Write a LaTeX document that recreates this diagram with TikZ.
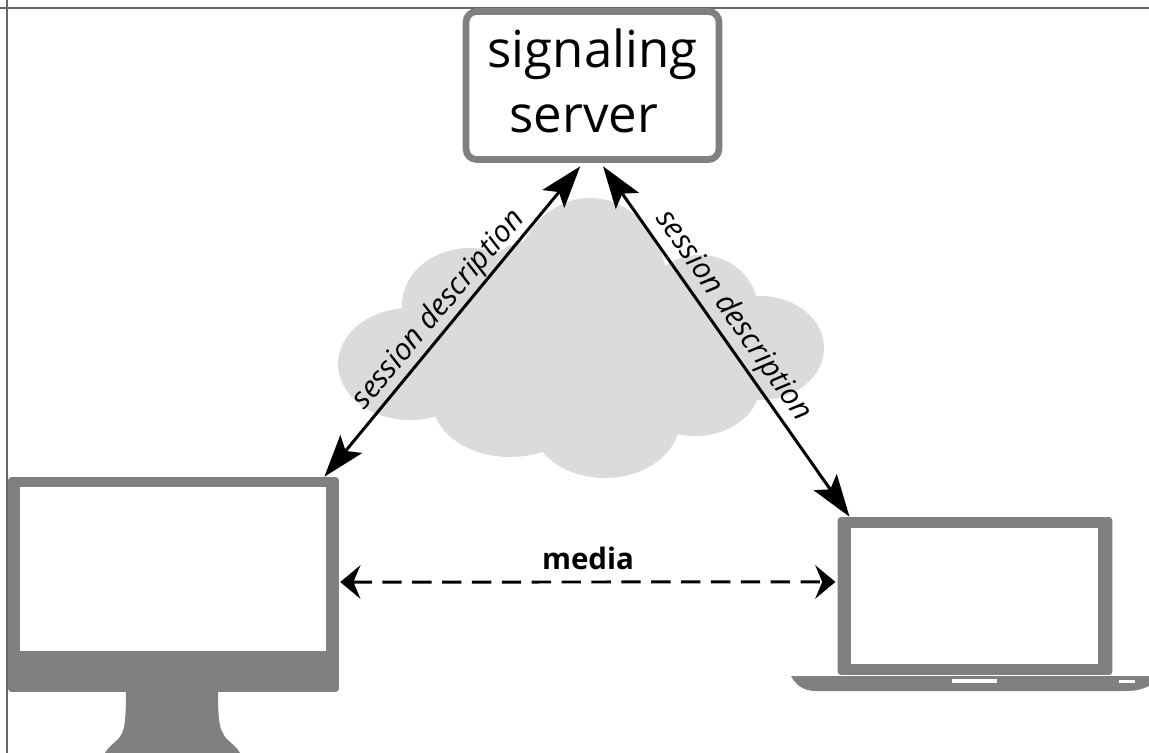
\documentclass[tikz,border=0pt]{standalone}
\usepackage{fontspec}
\usepackage{xcolor}
\usetikzlibrary{arrows.meta}
\setmainfont{Open Sans}
\definecolor{devicegray}{HTML}{808080}
\definecolor{cloudgray}{HTML}{DBDBDB}
\tikzset{
	devicebox/.style={fill=devicegray,rounded corners=2pt,inner sep=0pt},
	screenbox/.style={fill=white,inner sep=0pt},
	link/.style={line width=1.7pt,black,{Stealth[length=24pt,width=16pt,inset=5pt]}-{Stealth[length=24pt,width=16pt,inset=5pt]}},
	medialink/.style={line width=1.7pt,black,dash pattern=on 11pt off 6pt,{Stealth[length=11.5pt,width=19pt,inset=4pt]}-{Stealth[length=11.5pt,width=19pt,inset=4pt]}},
	sessionlabel/.style={font=\fontsize{17}{20}\selectfont\itshape,inner sep=0pt}
}
\begin{document}
\begin{tikzpicture}[x=0.02cm,y=-0.02cm]
	\useasboundingbox (0,0) rectangle (1149,753);
	\fill[white] (0,0) rectangle (1149,753);
	%% cloud
	\fill[cloudgray] (590,290) ellipse (78 and 92);
	\fill[cloudgray] (470,305) ellipse (68 and 57);
	\fill[cloudgray] (410,364) ellipse (72 and 56);
	\fill[cloudgray] (510,400) ellipse (78 and 57);
	\fill[cloudgray] (605,420) ellipse (75 and 58);
	\fill[cloudgray] (695,385) ellipse (65 and 51);
	\fill[cloudgray] (760,348) ellipse (64 and 52);
	\fill[cloudgray] (700,310) ellipse (58 and 55);
	\fill[cloudgray] (535,300) ellipse (60 and 60);
	\fill[cloudgray] (590,360) ellipse (130 and 90);
	%% monitor
	\fill[devicegray] (126,690) -- (218,690) .. controls (218,715) and (219,728) .. (223,733) .. controls (226,741) and (235,744) .. (240,753) -- (105,753) .. controls (110,744) and (119,741) .. (122,733) .. controls (125,728) and (126,715) .. (126,690) -- cycle;
	\node[devicebox,minimum width=6.62cm,minimum height=4.3cm] (monitor) at (173.5,584.5) {};
	\node[screenbox,minimum width=6.12cm,minimum height=3.28cm] (monitorscreen) at (173,569) {};
	%% image edges
	\draw[devicegray!80!black,line width=1pt] (0,8) -- (1149,8);
	\draw[devicegray!80!black,line width=1pt] (7,0) -- (7,753);
	%% server
	\node[draw=devicegray,line width=3.8pt,fill=white,rounded corners=6pt,minimum width=5.06cm,minimum height=2.96cm,inner sep=0pt] (server) at (592.5,85.5) {};
	\node[align=center,font=\fontsize{29}{37}\selectfont,inner sep=0pt] (serverlabel) at (592.5,81) {signaling\\server\hspace*{10pt}};
	%% laptop
	\node[devicebox,minimum width=5.5cm,minimum height=3.16cm] (laptop) at (975,596) {};
	\node[screenbox,minimum width=4.94cm,minimum height=2.72cm] (laptopscreen) at (974.5,596) {};
	\fill[devicegray] (791,676) -- (1149,676) -- (1149,686) .. controls (1140,690) and (1135,691) .. (1125,691) -- (815,691) .. controls (803,691) and (795,684) .. (791,676) -- cycle;
	\node[screenbox,minimum width=0.9cm,minimum height=0.08cm] (slot) at (974.5,681) {};
	\node[screenbox,minimum width=0.32cm,minimum height=0.06cm] (light) at (1127,681.5) {};
	%% arrows
	\draw[link] ([xshift=-7pt,yshift=-2pt]server.south) -- ([xshift=-8.5pt]monitor.north east);
	\draw[link] ([xshift=6pt,yshift=-2pt]server.south) -- ([xshift=7pt]laptop.north west);
	\draw[medialink] ([xshift=0.5pt,yshift=1.4pt]monitor.east) -- ([xshift=-1pt,yshift=8pt]laptop.west);
	%% labels
	\node[sessionlabel,rotate=50] (leftlabel) at (439,310) {session description};
	\node[sessionlabel,rotate=-55] (rightlabel) at (733,316) {session description};
	\node[font=\fontsize{16.8}{20}\selectfont\bfseries,inner sep=0pt] (medialabel) at (588,558) {media};
\end{tikzpicture}
\end{document}
